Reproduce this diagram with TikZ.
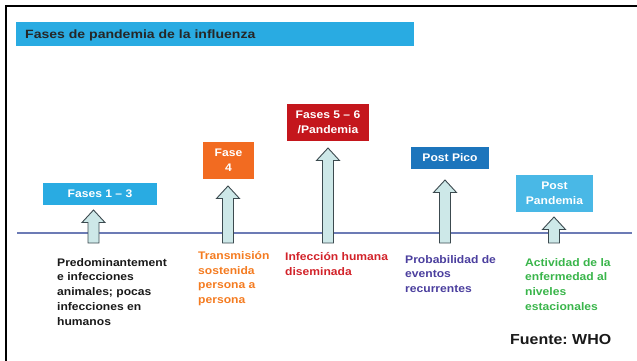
\documentclass[tikz,border=0pt]{standalone}
\usepackage{fontspec}
\setmainfont{Liberation Sans}
\newfontfamily\arialw[FakeStretch=1.1]{Liberation Sans}
\newfontfamily\arialt[FakeStretch=1.17]{Liberation Sans}
\definecolor{skyb}{HTML}{29ABE2}
\definecolor{darkb}{HTML}{1C75BC}
\definecolor{orng}{HTML}{F26B21}
\definecolor{redb}{HTML}{C4161C}
\definecolor{txtorng}{HTML}{F47B20}
\definecolor{txtred}{HTML}{D2232A}
\definecolor{txtpurp}{HTML}{4B3F9E}
\definecolor{txtgrn}{HTML}{39B54A}
\definecolor{linec}{HTML}{6C7BB5}
\definecolor{arrfill}{HTML}{CDE8E8}
\definecolor{arrline}{HTML}{3C4A4F}
\begin{document}
\begin{tikzpicture}[x=1pt,y=-1pt,
  phasebox/.style={fill=#1,draw=none,inner sep=0pt,text=white,
    font=\arialw\bfseries\fontsize{11}{15}\selectfont,align=center},
  desc/.style={anchor=north west,inner sep=0pt,align=left,text=#1,
    font=\arialw\bfseries\fontsize{11}{14.8}\selectfont},
  arrowbody/.style={fill=arrfill,draw=arrline,line width=0.9pt,line join=miter}]
\useasboundingbox (0,0) rectangle (637,360);
\clip (0,0) rectangle (637,360);
% frame
\draw[line width=2.5pt,black] (6,6) rectangle (700,420);
% title bar
\node[fill=skyb,minimum width=398pt,minimum height=24pt,inner sep=0pt,anchor=north west] (bar) at (16,22) {};
\node[anchor=base west,inner sep=0pt,font=\arialt\bfseries\fontsize{12}{14}\selectfont,text=black!85] (title) at (25,38) {Fases de pandemia de la influenza};
% timeline
\coordinate (l0) at (17,233);
\coordinate (l1) at (632,233);
\draw[linec,line width=1.3pt] (l0) -- (l1);
% boxes
\node[phasebox=skyb,minimum width=114pt,minimum height=22pt] (p1) at (100,194) {Fases 1 – 3};
\node[phasebox=orng,minimum width=51pt,minimum height=37pt] (p4) at (228.5,160.5) {Fase\\4};
\node[phasebox=redb,minimum width=82pt,minimum height=37pt] (p56) at (328,122.5) {Fases 5 – 6\\/Pandemia};
\node[phasebox=darkb,minimum width=78pt,minimum height=22pt] (pp) at (450,158) {Post Pico};
\node[phasebox=skyb!85!white,minimum width=77pt,minimum height=37pt] (ppd) at (554.5,193.5) {Post\\Pandemia};
% block arrows
\newcommand\blockup[3]{%
  \draw[arrowbody] (#1-5.5,#3) -- (#1-5.5,#2+12.5) -- (#1-11.5,#2+12.5) -- (#1,#2)
   -- (#1+11.5,#2+12.5) -- (#1+5.5,#2+12.5) -- (#1+5.5,#3) -- cycle;}
\blockup{93.5}{210}{243}
\blockup{228}{186}{243}
\blockup{328}{148}{243}
\blockup{445}{180}{243}
\blockup{554}{217}{243}
% descriptions
\node[desc=black!90] (d1) at (57,258) {Predominantement\\e infecciones\\animales; pocas\\infecciones en\\humanos};
\node[desc=txtorng] (d4) at (198,251) {Transmisión\\sostenida\\persona a\\persona};
\node[desc=txtred] (d56) at (285,252) {Infección humana\\diseminada};
\node[desc=txtpurp] (dpp) at (405,255) {Probabilidad de\\eventos\\recurrentes};
\node[desc=txtgrn] (dppd) at (525,258) {Actividad de la\\enfermedad al\\niveles\\estacionales};
% source
\node[anchor=base west,inner sep=0pt,font=\arialw\bfseries\fontsize{14.5}{16}\selectfont,text=black!90] (src) at (510,344) {Fuente:~WHO};
\end{tikzpicture}
\end{document}
